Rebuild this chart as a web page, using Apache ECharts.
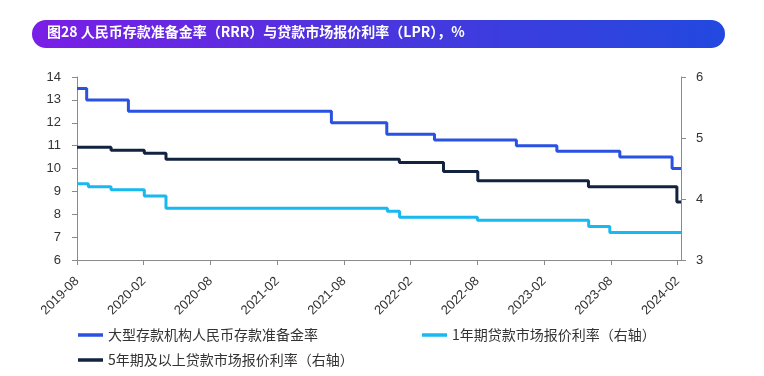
<!DOCTYPE html>
<html>
<head>
<meta charset="utf-8">
<script src="https://cdn.jsdelivr.net/npm/echarts@6/dist/echarts.min.js"></script>
<style>
  html, body { margin: 0; padding: 0; background: #fff; }
  #chart { width: 764px; height: 376px; }
</style>
</head>
<body>
<div id="chart"></div>
<script>
// x is months since 2019-08
const tickLabels = ['2019-08', '2020-02', '2020-08', '2021-02', '2021-08', '2022-02', '2022-08', '2023-02', '2023-08', '2024-02'];

const rrrX = [0, 0.87, 4.62, 22.87, 27.85, 32.14, 39.5, 43.14, 48.8, 53.5, 54.3];
const rrrY = [13.5, 13, 12.5, 12, 11.5, 11.25, 11, 10.75, 10.5, 10, 10];

const lpr1X = [0, 1.02, 3.06, 6.05, 8.0, 27.9, 29.0, 36.0, 46.0, 47.9, 54.3];
const lpr1Y = [4.25, 4.20, 4.15, 4.05, 3.85, 3.80, 3.70, 3.65, 3.55, 3.45, 3.45];

const lpr5X = [0, 3.06, 6.05, 8.0, 28.98, 32.95, 36.03, 45.98, 53.93, 54.3];
const lpr5Y = [4.85, 4.80, 4.75, 4.65, 4.60, 4.45, 4.30, 4.20, 3.95, 3.95];

const names = ['大型存款机构人民币存款准备金率', '1年期贷款市场报价利率（右轴）', '5年期及以上贷款市场报价利率（右轴）'];
const colors = ['#2a52e2', '#18b8f0', '#13233f'];

const pairs = (xs, ys) => xs.map((x, i) => [x, ys[i]]);

const myChart = echarts.init(document.getElementById('chart'));

const axisLineStyle = { lineStyle: { color: '#8a8a8a', width: 1 } };
const font = "'Liberation Sans', 'Noto Sans CJK SC', sans-serif";

const legendBase = {
  icon: 'rect',
  itemWidth: 25,
  itemHeight: 3.5,
  textStyle: { color: '#333', fontSize: 14, fontFamily: "'Noto Sans CJK SC', sans-serif" }
};

const option = {
  backgroundColor: '#fff',
  animation: false,
  graphic: [
    {
      type: 'rect',
      shape: { x: 32, y: 20, width: 693, height: 28, r: 14 },
      style: {
        fill: new echarts.graphic.LinearGradient(0, 0, 1, 0, [
          { offset: 0, color: '#7a1ee6' },
          { offset: 0.5, color: '#4a36de' },
          { offset: 1, color: '#2249df' }
        ])
      }
    },
    {
      type: 'text',
      left: 47,
      top: 25,
      style: {
        text: '图28 人民币存款准备金率（RRR）与贷款市场报价利率（LPR），%',
        font: "bold 14px 'Noto Sans CJK SC'",
        fill: '#fff'
      }
    }
  ],
  legend: [
    Object.assign({ data: [names[0]], left: 73, top: 323 }, legendBase),
    Object.assign({ data: [names[1]], left: 417, top: 323 }, legendBase),
    Object.assign({ data: [names[2]], left: 73, top: 348 }, legendBase)
  ],
  grid: { left: 77, right: 83, top: 77, bottom: 116 },
  xAxis: {
    type: 'value',
    min: 0,
    max: 54.3,
    interval: 6,
    splitLine: { show: false },
    axisLine: axisLineStyle,
    axisTick: { length: 5, lineStyle: { color: '#8a8a8a' } },
    axisLabel: {
      rotate: 45,
      margin: 19,
      color: '#333',
      fontSize: 13,
      fontFamily: font,
      showMaxLabel: false,
      formatter: (v) => {
        const i = Math.round(v / 6);
        return Math.abs(v - i * 6) < 1e-6 && tickLabels[i] ? tickLabels[i] : '';
      }
    }
  },
  yAxis: [
    {
      type: 'value',
      min: 6,
      max: 14,
      interval: 1,
      splitLine: { show: false },
      axisLine: Object.assign({ show: true }, axisLineStyle),
      axisTick: { show: true, length: 5, lineStyle: { color: '#8a8a8a' } },
      axisLabel: { color: '#333', fontSize: 13, fontFamily: font, margin: 16 }
    },
    {
      type: 'value',
      min: 3,
      max: 6,
      interval: 1,
      position: 'right',
      splitLine: { show: false },
      axisLine: Object.assign({ show: true }, axisLineStyle),
      axisTick: { show: true, length: 5, lineStyle: { color: '#8a8a8a' } },
      axisLabel: { color: '#333', fontSize: 13, fontFamily: font, margin: 15 }
    }
  ],
  series: [
    {
      name: names[0],
      type: 'line',
      step: 'end',
      yAxisIndex: 0,
      showSymbol: false,
      lineStyle: { width: 3, color: colors[0] },
      itemStyle: { color: colors[0] },
      data: pairs(rrrX, rrrY)
    },
    {
      name: names[1],
      type: 'line',
      step: 'end',
      yAxisIndex: 1,
      showSymbol: false,
      lineStyle: { width: 3, color: colors[1] },
      itemStyle: { color: colors[1] },
      data: pairs(lpr1X, lpr1Y)
    },
    {
      name: names[2],
      type: 'line',
      step: 'end',
      yAxisIndex: 1,
      showSymbol: false,
      lineStyle: { width: 3, color: colors[2] },
      itemStyle: { color: colors[2] },
      data: pairs(lpr5X, lpr5Y)
    }
  ]
};

myChart.setOption(option);
</script>
</body>
</html>
